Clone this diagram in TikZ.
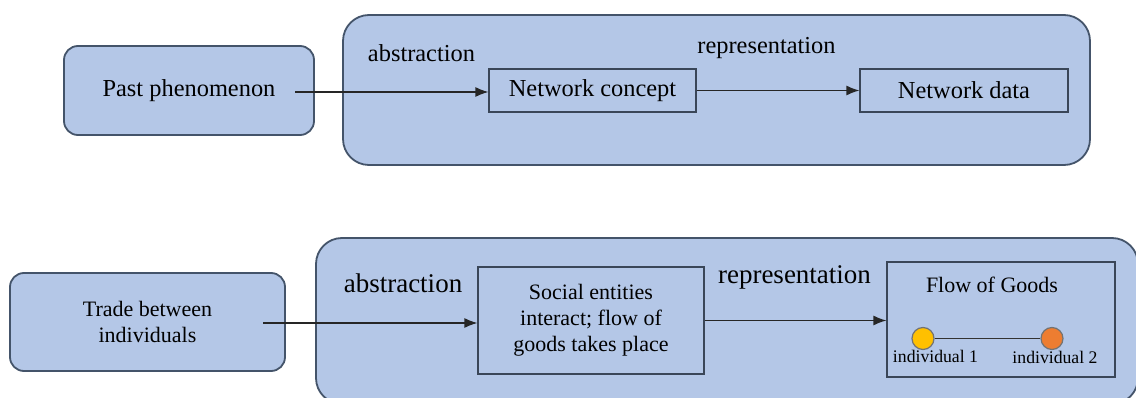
\documentclass[tikz,border=0pt]{standalone}
\usepackage{fontspec}
\setmainfont{Liberation Serif}
\usetikzlibrary{arrows.meta}

\definecolor{boxfill}{RGB}{180,199,231}
\definecolor{boxline}{RGB}{68,84,106}
\definecolor{rectline}{RGB}{58,70,88}
\definecolor{goldind}{RGB}{255,192,0}
\definecolor{orangeind}{RGB}{237,125,49}

\begin{document}
\begin{tikzpicture}[x=1pt, y=-1pt, font=\rmfamily,
	phase/.style={draw=boxline, fill=boxfill, line width=1.8pt, rounded corners=14pt, inner sep=0pt, align=center},
	frame/.style={draw=boxline, fill=boxfill, line width=1.8pt, rounded corners=26pt, inner sep=0pt},
	stage/.style={draw=rectline, line width=1.2pt, inner sep=0pt, align=center},
	flow/.style={draw=black!85, line width=1.2pt, -{Latex[length=13pt,width=10pt]}},
	actor/.style={circle, draw=black!55, line width=1.2pt, minimum size=22pt, inner sep=0pt},
	toptext/.style={font=\rmfamily\fontsize{24.4}{29}\selectfont},
	lowtext/.style={font=\rmfamily\fontsize{22}{26}\selectfont},
	steptext/.style={font=\rmfamily\fontsize{27}{32}\selectfont},
	smalltext/.style={font=\rmfamily\fontsize{17.7}{20}\selectfont, inner sep=0pt}]
% page
	\clip (0,0) rectangle (1136,398);

% top row: phenomenon -> concept -> data
	\node[frame, minimum width=747, minimum height=150] (topframe) at (716.5,90) {};
	\node[phase, toptext, minimum width=250, minimum height=89] (past) at (189,90.5) {Past phenomenon};
	\node[stage, toptext, minimum width=207, minimum height=43] (concept) at (592.5,90.5) {Network concept};
	\node[stage, toptext, minimum width=208, minimum height=43] (data) at (964,90.5) {Network data};
	\node[toptext] (abstrtop) at (421.5,53) {abstraction};
	\node[toptext] (reprtop) at (766.5,48) {representation};
	\coordinate (pastout) at (295,92);

	\draw[flow] (pastout) -- (pastout -| concept.west);
	\draw[flow] (concept.east) -- (data.west);

% bottom row: trade -> entities -> flow of goods
	\node[frame, minimum width=822, minimum height=166] (lowframe) at (727,321) {};
	\node[phase, lowtext, minimum width=275, minimum height=98] (trade) at (147.5,322) {Trade between\\individuals};
	\node[stage, lowtext, minimum width=226, minimum height=107] (social) at (591,320.5) {Social entities\\interact; flow of\\goods takes place};
	\node[stage, minimum width=228, minimum height=115] (goods) at (1001,319.5) {};
	\node[steptext] (abstrlow) at (403,283) {abstraction};
	\node[steptext] (reprlow) at (794.5,277) {representation};
	\node[lowtext] (goodstitle) at (992,285) {Flow of Goods};
	\coordinate (tradeout) at (263,323);

	\draw[flow] (tradeout) -- (tradeout -| social.west);
	\draw[flow] (social.east) -- (social.east -| goods.west);

% the two individuals
	\node[actor, fill=goldind] (ind1) at (923,338.5) {};
	\node[actor, fill=orangeind] (ind2) at (1052,338.5) {};
	\draw[line width=1.2pt, black!80] (ind1) -- (ind2);
	\node[smalltext] (ind1label) at (935.5,356) {individual 1};
	\node[smalltext] (ind2label) at (1055,357) {individual 2};
\end{tikzpicture}
\end{document}
